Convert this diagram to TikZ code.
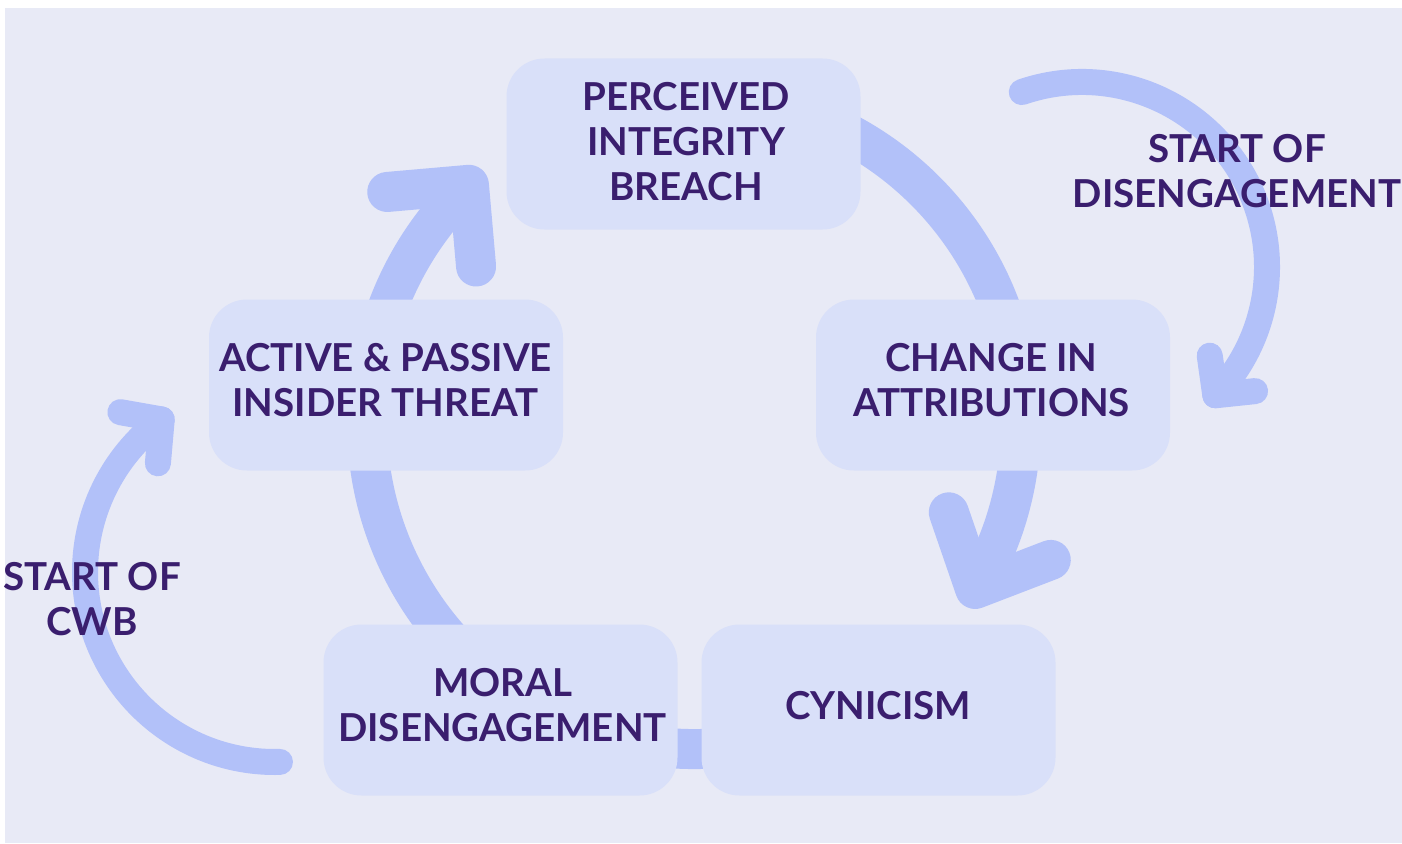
\documentclass[tikz,border=0pt]{standalone}
\usepackage{fontspec}
\setmainfont{Lato}
\usetikzlibrary{calc}
\definecolor{bg}{HTML}{E8EAF6}
\definecolor{arcc}{HTML}{B2C1F9}
\definecolor{boxc}{HTML}{D9E0F9}
\definecolor{txt}{HTML}{3A1E6E}
\begin{document}
\begin{tikzpicture}[x=1pt,y=1pt,
  box/.style={fill=boxc, rounded corners=38pt, minimum width=354pt, minimum height=171pt, inner sep=0pt, anchor=center},
  lbl/.style={text=txt, font=\fontsize{38.5}{45}\selectfont\bfseries, align=center, inner sep=0pt},
  bigarc/.style={draw=arcc, line width=40pt},
  bighead/.style={draw=arcc, line width=40pt, line cap=round, line join=round},
  smallarc/.style={draw=arcc, line width=26pt, line cap=round, line join=round}]
\useasboundingbox (0,0) rectangle (1402,-843);
\fill[bg] (5,-8) rectangle (1402,-843);
% main cycle
\coordinate (C) at (694,-422);
\coordinate (T1) at ($(C)+(133.5:327)$);
\coordinate (T2) at ($(C)+(-30.7:327)$);
\draw[bigarc] ($(C)+(-60:327)$) arc[start angle=-60, end angle=-226.5, radius=327];
\draw[bigarc] ($(C)+(70:327)$) arc[start angle=70, end angle=-30.7, radius=327];
\draw[bighead] ($(T1)+(185:82)$) -- (T1) -- ($(T1)+(275:82)$);
\draw[bighead] ($(T2)+(109:81)$) -- (T2) -- ($(T2)+(21:81)$);
% boxes
\node[box] (pib) at (683.5,-144) {};
\node[box] (cia) at (993,-385) {};
\node[box] (api) at (386,-385) {};
\node[box] (mde) at (500.5,-710) {};
\node[box] (cyn) at (878.5,-710) {};
\node[lbl] (pibt) at (686,-141.3) {PERCEIVED\\INTEGRITY\\BREACH};
\node[lbl] (ciat) at (991.5,-380.5) {CHANGE IN\\ATTRIBUTIONS};
\node[lbl] (apit) at (385.5,-380.5) {ACTIVE \& PASSIVE\\INSIDER THREAT};
\node[lbl] (mdet) at (502.5,-705) {MORAL\\DISENGAGEMENT};
\node[lbl] (cynt) at (878,-705.5) {CYNICISM};
% side arcs
\coordinate (R) at (1082,-267);
\coordinate (T3) at ($(R)+(-43.9:185)$);
\draw[smallarc] ($(R)+(109:185)$) arc[start angle=109, end angle=-43.9, radius=185];
\draw[smallarc] ($(T3)+(98:40)$) -- (T3) -- ($(T3)+(6:40)$);
\coordinate (L) at (275,-572);
\coordinate (T4) at ($(L)+(126.6:190)$);
\draw[smallarc] ($(L)+(-88.5:190)$) arc[start angle=-88.5, end angle=-233.4, radius=190];
\draw[smallarc] ($(T4)+(170:42)$) -- (T4) -- ($(T4)+(265:44)$);
% side labels
\node[lbl] (sod) at (1237,-171) {START OF\\DISENGAGEMENT};
\node[lbl] (soc) at (92,-599) {START OF\\CWB};
\end{tikzpicture}
\end{document}
